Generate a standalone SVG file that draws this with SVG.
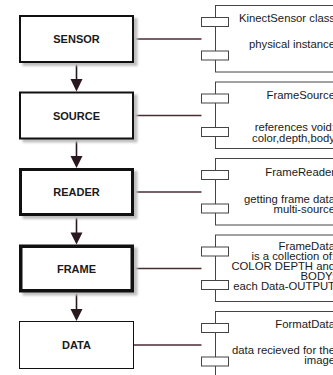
<svg xmlns="http://www.w3.org/2000/svg" width="333" height="375" viewBox="0 0 333 375">
  <style>
    .box { fill: #ffffff; stroke: #111111; }
    .shadow { fill: #bfbfbf; }
    .label { font-family: "Liberation Sans", Arial, sans-serif; font-size: 11px; font-weight: bold; fill: #1a1a1a; text-anchor: middle; }
    .comp { fill: #ffffff; stroke: #444444; stroke-width: 1; }
    .tab { fill: #ffffff; stroke: #444444; stroke-width: 1; }
    .desc { font-family: "Liberation Sans", Arial, sans-serif; font-size: 11.3px; fill: #1a1a1a; text-anchor: end; }
    .flow { stroke: #2a1820; stroke-width: 1.6; fill: none; }
    .head { fill: #2a1820; }
    .link { stroke: #4a2c33; stroke-width: 1.3; fill: none; }
  </style>
  <defs>
    <filter id="soft" x="-10%" y="-10%" width="130%" height="130%">
      <feGaussianBlur stdDeviation="0.8"/>
    </filter>
  </defs>

  <!-- flow connectors and links to the component blocks -->
  <g id="connectors">
    <line class="flow" x1="76.5" y1="63" x2="76.5" y2="80"/>
    <polygon class="head" points="70.5,79 82.5,79 76.5,91.5"/>
    <line class="flow" x1="76.5" y1="139.5" x2="76.5" y2="157"/>
    <polygon class="head" points="70.5,156 82.5,156 76.5,168"/>
    <line class="flow" x1="76.5" y1="216" x2="76.5" y2="233"/>
    <polygon class="head" points="70.5,232.5 82.5,232.5 76.5,244.5"/>
    <line class="flow" x1="76.5" y1="292.5" x2="76.5" y2="310"/>
    <polygon class="head" points="70.5,309 82.5,309 76.5,321"/>

    <line class="link" x1="134" y1="39" x2="201.5" y2="39"/>
    <line class="link" x1="134" y1="115.5" x2="201.5" y2="115.5"/>
    <line class="link" x1="134" y1="192" x2="201.5" y2="192"/>
    <line class="link" x1="134" y1="268.5" x2="201.5" y2="268.5"/>
    <line class="link" x1="134" y1="345" x2="201.5" y2="345"/>
  </g>

  <!-- stage boxes -->
  <g id="sensor">
    <rect class="shadow" x="22.5" y="18" width="115" height="48" filter="url(#soft)"/>
    <rect class="box" x="20" y="16" width="113" height="46" stroke-width="2"/>
    <text class="label" x="76.5" y="43">SENSOR</text>
  </g>
  <g id="source">
    <rect class="shadow" x="22.5" y="94.5" width="115" height="48" filter="url(#soft)"/>
    <rect class="box" x="20" y="92.5" width="113" height="46" stroke-width="2"/>
    <text class="label" x="76.5" y="119.5">SOURCE</text>
  </g>
  <g id="reader">
    <rect class="shadow" x="22.5" y="171" width="115" height="48" filter="url(#soft)"/>
    <rect class="box" x="20.5" y="169.5" width="112" height="45" stroke-width="3"/>
    <text class="label" x="76.5" y="196">READER</text>
  </g>
  <g id="frame">
    <rect class="shadow" x="22.5" y="247.5" width="115" height="48" filter="url(#soft)"/>
    <rect class="box" x="20.75" y="246.25" width="111.5" height="44.5" stroke-width="3.5"/>
    <text class="label" x="76.5" y="272.5">FRAME</text>
  </g>
  <g id="data">
    <rect class="box" x="19.5" y="321.5" width="114" height="47" stroke="#333333" stroke-width="1"/>
    <text class="label" x="76.5" y="349">DATA</text>
  </g>

  <!-- component blocks -->
  <g id="kinect-sensor">
    <rect class="comp" x="215.5" y="5.5" width="140" height="66.5"/>
    <rect class="tab" x="201.5" y="17.5" width="27" height="9"/>
    <rect class="tab" x="201.5" y="51" width="27" height="9"/>
    <text class="desc" x="335" y="22">KinectSensor class</text>
    <text class="desc" x="335" y="48">physical instance</text>
  </g>
  <g id="frame-source">
    <rect class="comp" x="215.5" y="82" width="140" height="66.5"/>
    <rect class="tab" x="201.5" y="94" width="27" height="9"/>
    <rect class="tab" x="201.5" y="127.5" width="27" height="9"/>
    <text class="desc" x="335" y="98.5">FrameSource</text>
    <text class="desc" x="335" y="131">references void;</text>
    <text class="desc" x="335" y="142">color,depth,body</text>
  </g>
  <g id="frame-reader">
    <rect class="comp" x="215.5" y="158.5" width="140" height="66.5"/>
    <rect class="tab" x="201.5" y="170.5" width="27" height="9"/>
    <rect class="tab" x="201.5" y="204" width="27" height="9"/>
    <text class="desc" x="335" y="175.5">FrameReader</text>
    <text class="desc" x="335" y="202.5">getting frame data</text>
    <text class="desc" x="335" y="213">multi-source</text>
  </g>
  <g id="frame-data">
    <rect class="comp" x="215.5" y="235" width="140" height="66.5"/>
    <rect class="tab" x="201.5" y="247" width="27" height="9"/>
    <rect class="tab" x="201.5" y="280.5" width="27" height="9"/>
    <text class="desc" x="335" y="249.5">FrameData</text>
    <text class="desc" x="335" y="259.5">is a collection of:</text>
    <text class="desc" x="335" y="269.5">COLOR DEPTH and</text>
    <text class="desc" x="335" y="279.5">BODY;</text>
    <text class="desc" x="335" y="289.5">each Data-OUTPUT</text>
  </g>
  <g id="format-data">
    <rect class="comp" x="215.5" y="311.5" width="140" height="66.5"/>
    <rect class="tab" x="201.5" y="323.5" width="27" height="9"/>
    <rect class="tab" x="201.5" y="357" width="27" height="9"/>
    <text class="desc" x="335" y="328">FormatData</text>
    <text class="desc" x="335" y="354">data recieved for the</text>
    <text class="desc" x="335" y="364">image</text>
  </g>
</svg>
